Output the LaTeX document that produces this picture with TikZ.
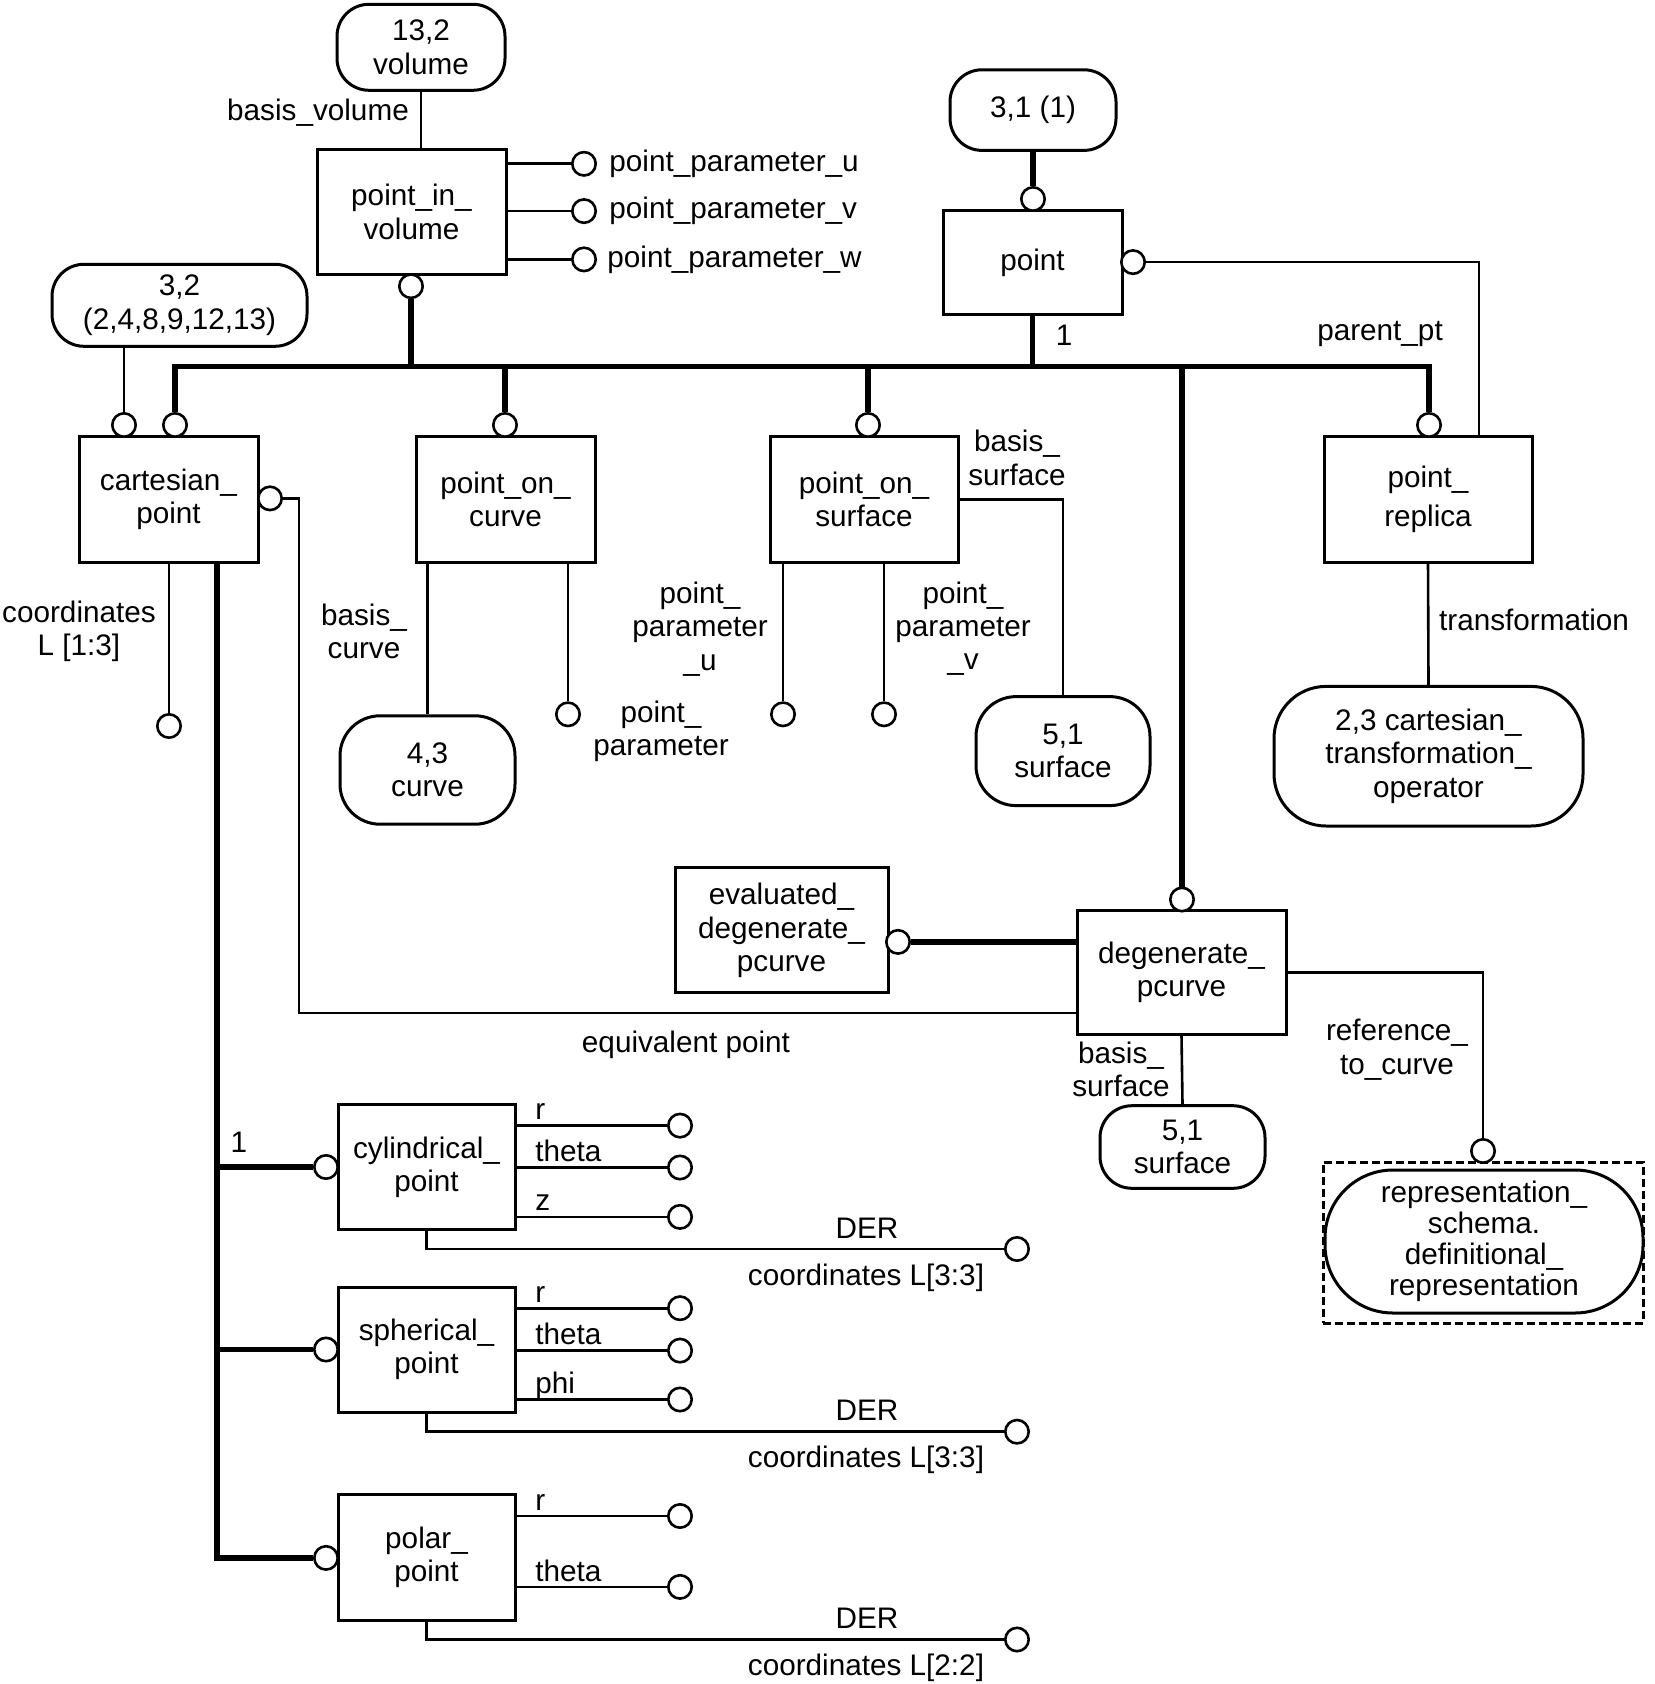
\documentclass[tikz,border=0pt]{standalone}
\usepackage{fontspec}
\setmainfont{Liberation Sans}
\usetikzlibrary{positioning}

\tikzset{
  ent/.style={draw,line width=1.5pt,align=center,inner sep=0pt,
    minimum width=89.5pt,minimum height=63pt},
  ext/.style={draw,line width=1.5pt,align=center,inner sep=0pt,rounded corners=16pt},
  knob/.style={draw,circle,line width=1.3pt,fill=white,minimum size=11.7pt,inner sep=0pt},
  rel/.style={line width=1.3pt},
  sub/.style={line width=2.6pt},
  lbl/.style={inner sep=0pt,align=center},
}

\begin{document}
\begin{tikzpicture}[x=0.5pt,y=-0.5pt,font=\fontsize{14.85}{16.6}\selectfont]
\useasboundingbox (0,0) rectangle (1654,1684);

% boxes
\node[ext,minimum width=84pt,minimum height=43pt] (vol) at (421,47.3) {13,2\\volume};
\node[ent,minimum width=94.5pt,minimum height=62.5pt] (piv) at (411.5,211.9) {point\_in\_\\volume};
\node[ext,minimum width=83pt,minimum height=40.3pt] (p31) at (1033,110.1) {3,1 (1)};
\node[ent,minimum height=51.9pt] (pt) at (1032.5,262.4) {point};
\node[ext,minimum width=127.5pt,minimum height=41pt] (p32) at (179.5,305.3) {3,2\\(2,4,8,9,12,13)};
\node[ent] (cp) at (168.5,499.2) {cartesian\_\\point};
\node[ent] (poc) at (505.5,499.2) {point\_on\_\\curve};
\node[ent,minimum width=94pt] (pos) at (864,499.2) {point\_on\_\\surface};
\node[ent,minimum width=104pt] (prep) at (1428,499.2) {point\_\\[3pt]replica};
\node[ext,minimum width=87.5pt,minimum height=54.2pt,rounded corners=20pt] (c43) at (427.5,770) {4,3\\curve};
\node[ext,minimum width=87pt,minimum height=54.5pt,rounded corners=20pt] (s51a) at (1063,751.1) {5,1\\surface};
\node[ext,minimum width=154.5pt,minimum height=69.8pt,rounded corners=26pt] (cto) at (1428.5,756.2) {2,3 cartesian\_\\transformation\_\\operator};
\node[ent,minimum width=106.5pt,minimum height=62.5pt] (edp) at (781.5,930.4) {evaluated\_\\degenerate\_\\pcurve};
\node[ent,minimum width=104.5pt,minimum height=61.8pt] (dp) at (1181.5,972.5) {degenerate\_\\pcurve};
\node[ext,minimum width=82.5pt,minimum height=41.3pt] (s51b) at (1182.5,1147) {5,1\\surface};
\node[draw,line width=1.5pt,dash pattern=on 4pt off 2pt,minimum width=160pt,minimum height=80.5pt] (drep) at (1483,1242.5) {};
\node[ext,minimum width=159pt,minimum height=71.5pt,rounded corners=34pt,
  font=\fontsize{14.85}{15.4}\selectfont] (drepi) at (1484,1241.5) {representation\_\\schema.\\definitional\_\\representation};
\node[ent,minimum width=88.5pt,minimum height=62.5pt] (cyl) at (426.5,1167.2) {cylindrical\_\\point};
\node[ent,minimum width=88.5pt,minimum height=62.5pt] (sph) at (426.5,1349.6) {spherical\_\\point};
\node[ent,minimum width=88.5pt,minimum height=63pt] (pol) at (426.5,1557.6) {polar\_\\point};

% knobs
\node[knob] (ku) at (584,163.8) {};
\node[knob] (kv) at (584,211.1) {};
\node[knob] (kw) at (584,259.4) {};
\node[knob] (kpiv) at (411,286.2) {};
\node[knob] (kpt) at (1033,199) {};
\node[knob] (kptr) at (1133,262.1) {};
\node[knob] (kcp1) at (124,425) {};
\node[knob] (kcp2) at (175,425) {};
\node[knob] (kpoc) at (505,425) {};
\node[knob] (kpos) at (868,425) {};
\node[knob] (kprep) at (1429,425) {};
\node[knob] (kcpr) at (270,498.4) {};
\node[knob] (kcoord) at (169,726) {};
\node[knob] (kpoc2) at (568,714.3) {};
\node[knob] (kpu) at (783,714.3) {};
\node[knob] (kpv) at (884,714.3) {};
\node[knob] (kedp) at (898,941.9) {};
\node[knob] (kdp) at (1182,899.5) {};
\node[knob] (kref) at (1483,1151) {};
\node[knob] (kcyl) at (326,1167) {};
\node[knob] (kcr) at (680,1125.6) {};
\node[knob] (kct) at (680,1167.5) {};
\node[knob] (kcz) at (680,1216.9) {};
\node[knob] (kcder) at (1017,1249) {};
\node[knob] (ksph) at (326,1349.5) {};
\node[knob] (ksr) at (680,1308.2) {};
\node[knob] (kst) at (680,1350.6) {};
\node[knob] (ksp) at (680,1399.5) {};
\node[knob] (ksder) at (1017,1431.7) {};
\node[knob] (kpol) at (326,1557.9) {};
\node[knob] (kpr) at (680,1516) {};
\node[knob] (kpth) at (680,1586.9) {};
\node[knob] (kpder) at (1017,1639.5) {};

% supertype tree
\coordinate (bl) at (175,366.8);
\coordinate (br) at (1429,366.8);
\draw[sub] (kcp2) -- (bl) -- (br) -- (kprep);
\draw[sub] (kpiv) -- (kpiv |- bl);
\draw[sub] (pt.south) -- (pt |- bl);
\draw[sub] (kpoc) -- (kpoc |- bl);
\draw[sub] (kpos) -- (kpos |- bl);
\draw[sub] (kdp) -- (kdp |- bl);
\draw[sub] (p31.south) -- (kpt);
\draw[sub] (kedp) -- (kedp -| dp.west);
\coordinate (spine) at (217,1557.9);
\draw[sub] (spine |- cp.south) -- (spine) -- (kpol);
\draw[sub] (spine |- kcyl) -- (kcyl);
\draw[sub] (spine |- ksph) -- (ksph);

% attributes
\draw[rel] (vol.south) -- (vol.south |- piv.north);
\draw[rel] (piv.east |- ku) -- (ku);
\draw[rel] (piv.east |- kv) -- (kv);
\draw[rel] (piv.east |- kw) -- (kw);
\draw[rel] (kptr) -| ([xshift=25.5pt]prep.north);
\draw[rel] (kcp1 |- p32.south) -- (kcp1);
\coordinate (eq) at (299,1012.8);
\draw[rel] (kcpr) -| (eq) -- (eq -| dp.west);
\draw[rel] (kcoord |- cp.south) -- (kcoord);
\draw[rel] (c43.north |- poc.south) -- (c43.north);
\draw[rel] (kpoc2 |- poc.south) -- (kpoc2);
\draw[rel] (kpu |- pos.south) -- (kpu);
\draw[rel] (kpv |- pos.south) -- (kpv);
\draw[rel] (pos.east) -| (s51a.north);
\draw[rel] (prep.south) -- (cto.north);
\draw[rel] (dp.east) -| (kref);
\draw[rel] (dp.south) -- (s51b.north);
\draw[rel] (cyl.east |- kcr) -- (kcr);
\draw[rel] (cyl.east |- kct) -- (kct);
\draw[rel] (cyl.east |- kcz) -- (kcz);
\draw[rel] (cyl.south) |- (kcder);
\draw[rel] (sph.east |- ksr) -- (ksr);
\draw[rel] (sph.east |- kst) -- (kst);
\draw[rel] (sph.east |- ksp) -- (ksp);
\draw[rel] (sph.south) |- (ksder);
\draw[rel] (pol.east |- kpr) -- (kpr);
\draw[rel] (pol.east |- kpth) -- (kpth);
\draw[rel] (pol.south) |- (kpder);

% labels
\node[lbl] at (318,112.8) {basis\_volume};
\node[lbl,right=6pt of ku] {point\_parameter\_u};
\node[lbl,right=6pt of kv] {point\_parameter\_v};
\node[lbl,right=5pt of kw] {point\_parameter\_w};
\node[lbl] at (1064,335.7) {1};
\node[lbl] at (1380,334) {parent\_pt};
\node[lbl] at (79,631) {coordinates\\L [1:3]};
\node[lbl] at (364,631.5) {basis\_\\curve};
\node[lbl] at (700,629) {point\_\\parameter\\\_u};
\node[lbl] at (661,731) {point\_\\parameter};
\node[lbl] at (963,628.4) {point\_\\parameter\\\_v};
\node[lbl] at (1017,457.9) {basis\_\\surface};
\node[lbl] at (1534,620.3) {transformation};
\node[lbl] at (686,1045) {equivalent point};
\node[lbl] at (1397,1049.6) {reference\_\\to\_curve};
\node[lbl] at (1121,1069.7) {basis\_\\surface};
\node[lbl] at (239,1142.7) {1};
\node[lbl,anchor=base west] at (535,1119.6) {r};
\node[lbl,anchor=base west] at (535,1161.5) {theta};
\node[lbl,anchor=base west] at (535,1210.9) {z};
\node[lbl,anchor=base] at (867,1238) {DER};
\node[lbl,anchor=base] at (866,1285) {coordinates L[3:3]};
\node[lbl,anchor=base west] at (535,1302) {r};
\node[lbl,anchor=base west] at (535,1344.6) {theta};
\node[lbl,anchor=base west] at (535,1393.5) {phi};
\node[lbl,anchor=base] at (867,1420.7) {DER};
\node[lbl,anchor=base] at (866,1467.7) {coordinates L[3:3]};
\node[lbl,anchor=base west] at (535,1510) {r};
\node[lbl,anchor=base west] at (535,1581) {theta};
\node[lbl,anchor=base] at (867,1628.5) {DER};
\node[lbl,anchor=base] at (866,1675.5) {coordinates L[2:2]};
\end{tikzpicture}
\end{document}
